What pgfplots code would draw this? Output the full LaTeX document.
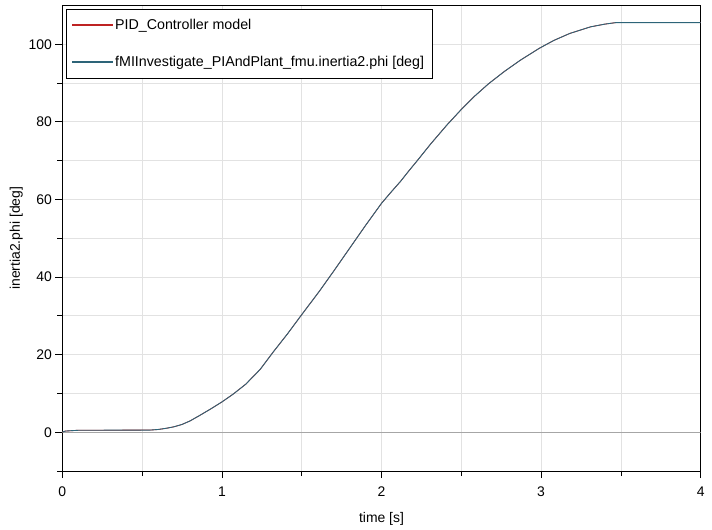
\documentclass[border=0pt]{standalone}
\usepackage{pgfplots}
\pgfplotsset{compat=1.18}
\usepackage{fontspec}
\setmainfont{Liberation Sans}
\usetikzlibrary{calc}
\definecolor{curve}{RGB}{45,100,120}
\definecolor{redc}{RGB}{190,35,35}
\definecolor{gridc}{RGB}{226,226,226}
\begin{document}
\begin{tikzpicture}
\begin{axis}[
  scale only axis,
  width=638.4bp, height=465.5bp,
  xmin=0, xmax=4, ymin=-10, ymax=110,
  xtick={0,1,2,3,4},
  minor xtick={0.5,1.5,2.5,3.5},
  ytick={0,20,40,60,80,100},
  minor ytick={-10,10,30,50,70,90},
  grid=both,
  major grid style={gridc, line width=0.8bp},
  minor grid style={gridc, line width=0.8bp},
  tick align=outside,
  major tick length=7bp,
  minor tick length=5bp,
  tick style={black, line width=0.8bp},
  axis line style={black, line width=1bp},
  xtick pos=bottom, ytick pos=left,
  /pgf/number format/assume math mode=true,
  tick label style={font=\fontsize{14}{16}\selectfont},
  xticklabel style={yshift=-5bp},
  label style={font=\fontsize{14}{16}\selectfont},
  xlabel={time [s]},
  ylabel={inertia2.phi [deg]},
  xlabel style={yshift=-9bp},
  ylabel style={yshift=-1bp},
  legend cell align=left,
  legend style={at={(0,1)}, anchor=north west, xshift=3.7bp, yshift=-3.5bp,
    draw=black, line width=0.8bp, font=\fontsize{14.3}{16}\selectfont,
    row sep=21bp, inner xsep=6bp, inner ysep=8bp},
]
\addplot[gray!70, line width=0.9bp, forget plot] coordinates {(0,0) (4,0)};
\addlegendimage{legend image code/.code={\fill[redc] (0bp,-0.5bp) rectangle (40bp,0.5bp);}}
\addlegendentry{PID\_Controller model}
\addplot[redc, line width=0.8bp, forget plot] coordinates {(0,0.05) (0.02,0.3) (0.1,0.5) (0.55,0.55) (0.6,0.7) (0.65,1.0) (0.7,1.4) (0.75,2.0) (0.8,2.9) (0.86,4.3) (0.93,6.0) (1.0,7.8) (1.07,9.8) (1.15,12.4) (1.24,16.2) (1.32,20.6) (1.41,25.3) (1.5,30.3) (1.61,36.3) (1.7,41.5) (1.8,47.4) (1.9,53.3) (2.0,59.0) (2.06,61.9) (2.12,64.7) (2.17,67.3) (2.22,69.8) (2.31,74.4) (2.41,79.2) (2.5,83.2) (2.58,86.5) (2.67,89.8) (2.77,93.0) (2.87,95.9) (2.99,99.0) (3.08,101.0) (3.18,102.8) (3.31,104.5) (3.4,105.2) (3.47,105.6) (4,105.6)};
\addlegendimage{legend image code/.code={\fill[curve] (0bp,-0.5bp) rectangle (40bp,0.5bp);}}
\addlegendentry{fMIInvestigate\_PIAndPlant\_fmu.inertia2.phi [deg]}
\addplot[curve, line width=0.9bp, forget plot] coordinates {(0,0.05) (0.02,0.3) (0.1,0.5) (0.55,0.55) (0.6,0.7) (0.65,1.0) (0.7,1.4) (0.75,2.0) (0.8,2.9) (0.86,4.3) (0.93,6.0) (1.0,7.8) (1.07,9.8) (1.15,12.4) (1.24,16.2) (1.32,20.6) (1.41,25.3) (1.5,30.3) (1.61,36.3) (1.7,41.5) (1.8,47.4) (1.9,53.3) (2.0,59.0) (2.06,61.9) (2.12,64.7) (2.17,67.3) (2.22,69.8) (2.31,74.4) (2.41,79.2) (2.5,83.2) (2.58,86.5) (2.67,89.8) (2.77,93.0) (2.87,95.9) (2.99,99.0) (3.08,101.0) (3.18,102.8) (3.31,104.5) (3.4,105.2) (3.47,105.6) (4,105.6)};
\end{axis}
\pgfresetboundingbox
\path ($(current axis.south west)+(-62.3bp,-59bp)$) rectangle ($(current axis.north east)+(11.3bp,5.5bp)$);
\end{tikzpicture}
\end{document}
